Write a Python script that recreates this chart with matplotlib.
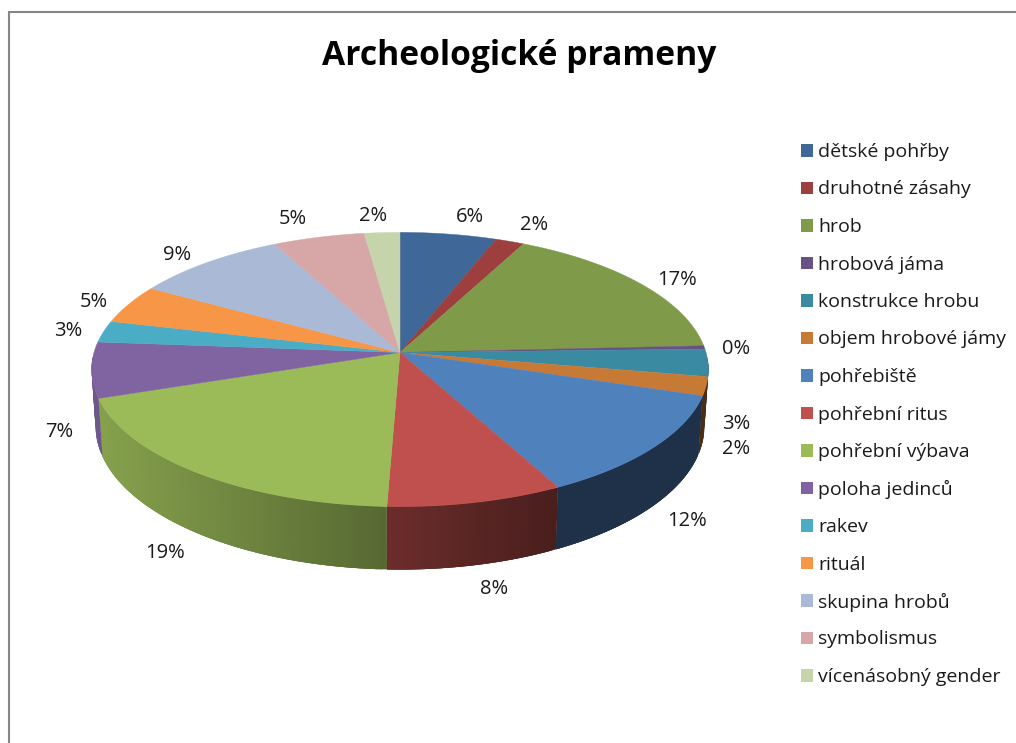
import numpy as np
import matplotlib
matplotlib.use("Agg")
import matplotlib.pyplot as plt
from matplotlib.patches import Rectangle

names = ["dětské pohřby", "druhotné zásahy", "hrob", "hrobová jáma", "konstrukce hrobu",
         "objem hrobové jámy", "pohřebiště", "pohřební ritus", "pohřební výbava",
         "poloha jedinců", "rakev", "rituál", "skupina hrobů", "symbolismus", "vícenásobný gender"]
values = [5.7, 1.7, 16.8, 0.4, 3.2, 2.2, 12.4, 8.2, 19.1, 6.55, 2.55, 4.6, 9.1, 5.4, 2.1]
colors = ["#3F6797", "#9C3F3E", "#7F9A48", "#695185", "#3A8AA2", "#C77A36", "#4F81BD", "#C0504D",
          "#9BBB59", "#8064A2", "#4BACC6", "#F79646", "#AAB9D6", "#D7A7A7", "#C6D4AB"]
title = "Archeologické prameny"

# where the percent labels sit, in pixels
label_pos = [(470, 217), (534, 225), (677, 280), (736, 349), (736, 424), (736, 449), (687, 521),
             (494, 589), (165, 553), (59, 432), (68, 331), (94, 302), (177, 255), (293, 219), (373, 216)]

plt.rcParams['font.family'] = ['Open Sans', 'DejaVu Sans']

# perspective of the pie
k = 0.124
cx, cy = 400, 352.5
rx, ry = 306, 135
bot_rx, bot_ry, bot_cy = 302, 141, 408.6


def norm(theta):
    # clockwise from the top of the pie
    t = np.radians(theta)
    u, v = np.sin(t), -np.cos(t)
    w = 1 - k * v
    return u / w, v / w


def top_rim(theta):
    x, y = norm(theta)
    return cx + rx * x, cy + ry * y


def bot_rim(theta):
    x, y = norm(theta)
    return cx + bot_rx * x, bot_cy + bot_ry * y


def shade(x):
    # the wall gets darker from left to right
    return np.clip(0.56 - 0.00105 * (x - 386), 0.38, 0.9)


fig = plt.figure(figsize=(10.16, 7.43), dpi=100)
ax = fig.add_axes([0, 0, 1, 1])
ax.set_xlim(0, 1016)
ax.set_ylim(743, 0)
ax.axis("off")

# chart frame, only top and left are in the picture
ax.plot([9, 9, 1016], [743, 12, 12], color="#868686", lw=1.5, solid_joinstyle="miter")

edges = 360 * np.concatenate([[0], np.cumsum(values)]) / np.sum(values)

# side wall, each strip runs under the next one so no seams show
for i in range(len(values)):
    a, b = max(edges[i], 92), min(edges[i + 1], 268)
    if b <= a:
        continue
    steps = np.arange(a, b + 0.75, 0.75)
    steps[-1] = b
    rgb = np.array(matplotlib.colors.to_rgb(colors[i]))
    for t0, t1 in zip(steps[:-1], steps[1:]):
        t2 = min(t1 + 1.5, b)
        th = np.linspace(t0, t2, 5)
        xt, yt = top_rim(th)
        xb, yb = bot_rim(th[::-1])
        c = rgb * shade(np.mean(top_rim(np.array([t0, t1]))[0]))
        ax.fill(np.r_[xt, xb], np.r_[yt, yb], color=c, lw=0, zorder=2)

# top face
for i in range(len(values)):
    th = np.linspace(edges[i], edges[i + 1], max(int(edges[i + 1] - edges[i]) * 2, 3))
    x, y = top_rim(th)
    ax.fill(np.r_[cx, x], np.r_[cy, y], color=colors[i], lw=0.3, zorder=3)

for i, (lx, ly) in enumerate(label_pos):
    ax.text(lx, ly, f"{round(values[i])}%", fontsize=14.5, color="#1a1a1a", ha="center", va="center", zorder=4)

ax.text(519, 56, title, fontsize=24.2, fontweight="bold", color="black", ha="center", va="center")

# legend
for i, name in enumerate(names):
    ly = 150 + 37.5 * i
    ax.add_patch(Rectangle((800.5, ly - 6), 12.5, 12.5, color=colors[i], lw=0))
    ax.text(818, ly, name, fontsize=14, color="#1a1a1a", ha="left", va="center_baseline")

fig.savefig("out.png", dpi=100)
